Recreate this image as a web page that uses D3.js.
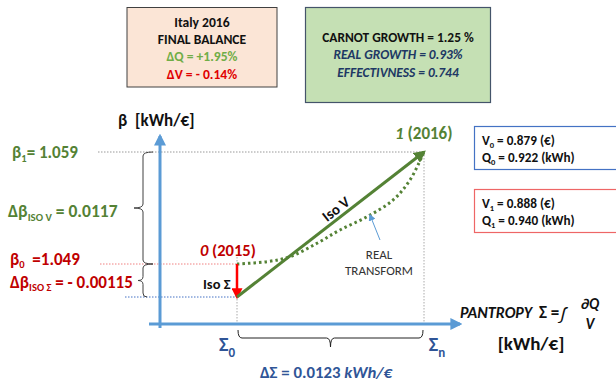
<!DOCTYPE html>
<html><head><meta charset="utf-8">
<script src="https://cdn.jsdelivr.net/npm/d3@7"></script>
<style>
body{margin:0;background:#fff;}
svg{display:block;font-family:Carlito,Lato,"Open Sans",sans-serif;}
</style></head>
<body><svg id="c" width="616" height="384"></svg>
<script>
// ---- data ----
const stateLabels = ["0", "1"];
const stateYears = ["(2015)", "(2016)"];
const sigmaValues = [0, 0.0123];            // Σ0, Σn  [kWh/€]
const betaValues = [1.049, 1.059];          // β0, β1  [kWh/€]
const deltaBetaIsoSigma = -0.00115;
const deltaBetaIsoV = 0.0117;
const deltaSigma = 0.0123;
const realTransformSigma = [0, 0.001973, 0.003486, 0.005262, 0.006775, 0.008551, 0.010261, 0.011379, 0.0123];
const realTransformBeta  = [1.049, 1.04921, 1.04965, 1.05085, 1.05204, 1.05322, 1.05471, 1.0565, 1.059];
const balanceLines = ["Italy 2016", "FINAL BALANCE", "ΔQ = +1.95%", "ΔV = - 0.14%"];
const growthLines = ["CARNOT GROWTH = 1.25 %", "REAL GROWTH = 0.93%", "EFFECTIVNESS = 0.744"];
const V = [0.879, 0.888];
const Q = [0.922, 0.940];

const svg = d3.select("#c");
const GREEN = "#548235", RED = "#c00000", BLUE = "#5b9bd5", DBLUE = "#2f5597";
const betaIso = betaValues[0] + deltaBetaIsoSigma;

const x = d3.scaleLinear().domain([sigmaValues[0], sigmaValues[1]]).range([237, 424]);
// schematic (piecewise) vertical scale
const y = d3.scaleLinear().domain([betaIso, betaValues[0], betaValues[1]]).range([297, 264, 152]);

const defs = svg.append("defs");
function marker(id, color, size) {
  defs.append("marker").attr("id", id).attr("viewBox", "0 0 10 10").attr("refX", 8).attr("refY", 5)
    .attr("markerWidth", size).attr("markerHeight", size).attr("orient", "auto").attr("markerUnits", "userSpaceOnUse")
    .append("path").attr("d", "M0,0 L10,5 L0,10 z").attr("fill", color);
}
marker("aBlue", BLUE, 12); marker("aRed", "#ff0000", 11); marker("aGreen", GREEN, 12); marker("aSmall", BLUE, 7);

// ---- top boxes ----
const b1 = svg.append("g");
b1.append("rect").attr("x", 127).attr("y", 7.5).attr("width", 150).attr("height", 79.5)
  .attr("fill", "#fbe5d6").attr("stroke", "#404040").attr("stroke-width", 1);
const b1Colors = ["#111", "#111", "#70ad47", "#e00000"];
balanceLines.forEach((t, i) => b1.append("text").attr("x", 202).attr("y", 22 + i * 17.3).attr("dy", "0.35em")
  .attr("text-anchor", "middle").attr("font-size", 13.6).attr("font-weight", "bold").attr("fill", b1Colors[i]).text(t));

const b2 = svg.append("g");
b2.append("rect").attr("x", 305.5).attr("y", 7.5).attr("width", 185).attr("height", 95)
  .attr("fill", "#c5e0b4").attr("stroke", "#44546a").attr("stroke-width", 1.2);
growthLines.forEach((t, i) => b2.append("text").attr("x", 398).attr("y", 37.5 + i * 17.3).attr("dy", "0.35em")
  .attr("text-anchor", "middle").attr("font-size", 13.4).attr("font-weight", "bold")
  .attr("font-style", i ? "italic" : "normal").attr("fill", i ? "#203864" : "#111").text(t));

// ---- V/Q boxes ----
[["#4472c4", 126], ["#ee6666", 189]].forEach(([col, top], i) => {
  const g = svg.append("g");
  g.append("rect").attr("x", 474.5).attr("y", top + 0.5).attr("width", 160).attr("height", 43)
    .attr("fill", "#fff").attr("stroke", col).attr("stroke-width", 1.2);
  const t1 = g.append("text").attr("x", 482).attr("y", top + 14).attr("dy", "0.35em").attr("font-size", 13.2).attr("font-weight", "bold").attr("fill", "#111");
  t1.append("tspan").text("V");
  t1.append("tspan").attr("font-size", 8.5).attr("dy", 3).text(i);
  t1.append("tspan").attr("dy", -3).text(" = " + V[i].toFixed(3) + " (€)");
  const t2 = g.append("text").attr("x", 482).attr("y", top + 31).attr("dy", "0.35em").attr("font-size", 13.2).attr("font-weight", "bold").attr("fill", "#111");
  t2.append("tspan").text("Q");
  t2.append("tspan").attr("font-size", 8.5).attr("dy", 3).text(i);
  t2.append("tspan").attr("dy", -3).text(" = " + Q[i].toFixed(3) + " (kWh)");
});

// ---- guide dotted lines ----
const guides = svg.append("g").attr("fill", "none").attr("stroke-width", 1).attr("stroke-dasharray", "1.5,1.5");
guides.append("line").attr("x1", 98).attr("x2", x(sigmaValues[1])).attr("y1", y(betaValues[1])).attr("y2", y(betaValues[1])).attr("stroke", "#999");
guides.append("line").attr("x1", 100).attr("x2", x(sigmaValues[0])).attr("y1", y(betaValues[0])).attr("y2", y(betaValues[0])).attr("stroke", "#f08080");
guides.append("line").attr("x1", 125).attr("x2", x(sigmaValues[0])).attr("y1", y(betaIso)).attr("y2", y(betaIso)).attr("stroke", "#4472c4");
guides.append("line").attr("x1", x(sigmaValues[0])).attr("x2", x(sigmaValues[0])).attr("y1", 257).attr("y2", 325).attr("stroke", "#aaa");
guides.append("line").attr("x1", x(sigmaValues[1])).attr("x2", x(sigmaValues[1])).attr("y1", y(betaValues[1])).attr("y2", 325).attr("stroke", "#aaa");

// ---- axes ----
svg.append("line").attr("x1", 160).attr("x2", 160).attr("y1", 328).attr("y2", 136)
  .attr("stroke", BLUE).attr("stroke-width", 3).attr("marker-end", "url(#aBlue)");
svg.append("line").attr("x1", 149).attr("x2", 460).attr("y1", 324).attr("y2", 324)
  .attr("stroke", BLUE).attr("stroke-width", 3).attr("marker-end", "url(#aBlue)");

svg.append("text").attr("x", 118).attr("y", 120).attr("dy", "0.35em").attr("font-size", 17).attr("font-weight", "bold").attr("fill", "#111")
  .style("white-space", "pre").text("β  [kWh/€]");

// ---- left braces ----
function vBrace(y0, y1, bx, tipLen, endR0, endR1) {
  const m = (y0 + y1) / 2, r = 4;
  return `M${bx + endR0},${y0} Q${bx},${y0} ${bx},${y0 + r} L${bx},${m - r} Q${bx},${m} ${bx - tipLen},${m} ` +
    `Q${bx},${m} ${bx},${m + r} L${bx},${y1 - r} Q${bx},${y1} ${bx + endR1},${y1}`;
}
const br = svg.append("g").attr("fill", "none").attr("stroke", "#404040").attr("stroke-width", 1);
br.append("path").attr("d", vBrace(y(betaValues[1]), y(betaValues[0]), 143, 9, 10, 10));
br.append("path").attr("d", vBrace(y(betaValues[0]), y(betaIso), 143, 5, 10, 4));

// left labels
function subLabel(xp, yp, main, sub, rest, color, fs, sdy) {
  const t = svg.append("text").attr("x", xp).attr("y", yp).attr("dy", "0.35em").attr("font-size", fs).attr("font-weight", "bold").attr("fill", color)
    .style("white-space", "pre");
  t.append("tspan").text(main);
  t.append("tspan").attr("font-size", fs * 0.62).attr("dy", sdy).text(sub);
  t.append("tspan").attr("dy", -sdy).text(rest);
}
subLabel(12, y(betaValues[1]), "β", "1", "= " + betaValues[1].toFixed(3), GREEN, 17, 4);
subLabel(8, 211, "Δβ", "ISO V", " = " + deltaBetaIsoV.toFixed(4), GREEN, 17.5, 4);
subLabel(10, 259, "β", "0", "  =" + betaValues[0].toFixed(3), RED, 17, 3);
subLabel(10, 282.5, "Δβ", "ISO Σ", " = - " + Math.abs(deltaBetaIsoSigma).toFixed(5), RED, 17, 3);

// ---- real transform (dotted curve) ----
const rt = realTransformSigma.map((s, i) => [x(s), y(realTransformBeta[i])]);
svg.append("path").attr("d", d3.line().curve(d3.curveCatmullRom)(rt))
  .attr("fill", "none").attr("stroke", GREEN).attr("stroke-width", 3).attr("stroke-dasharray", "2.5,3");

// ---- iso Σ (red) ----
svg.append("line").attr("x1", x(sigmaValues[0])).attr("x2", x(sigmaValues[0]))
  .attr("y1", y(betaValues[0])).attr("y2", y(betaIso))
  .attr("stroke", "#ff0000").attr("stroke-width", 2.5).attr("marker-end", "url(#aRed)");
// ---- iso V (green) ----
svg.append("line").attr("x1", x(sigmaValues[0])).attr("y1", y(betaIso))
  .attr("x2", x(sigmaValues[1])).attr("y2", y(betaValues[1]))
  .attr("stroke", GREEN).attr("stroke-width", 3).attr("marker-end", "url(#aGreen)");

const ang = Math.atan2(y(betaValues[1]) - y(betaIso), x(sigmaValues[1]) - x(sigmaValues[0])) * 180 / Math.PI;
svg.append("text").attr("transform", `translate(339,213) rotate(${ang})`).attr("text-anchor", "middle")
  .attr("font-size", 15).attr("font-weight", "bold").attr("fill", "#111").text("Iso V");
svg.append("text").attr("x", 203).attr("y", 284).attr("dy", "0.35em").attr("font-size", 14.5).attr("font-weight", "bold").attr("fill", "#111").text("Iso Σ");

// state labels
const s0 = svg.append("text").attr("x", 200).attr("y", 250).attr("dy", "0.35em").attr("font-size", 16.5).attr("font-weight", "bold").attr("fill", RED);
s0.append("tspan").attr("font-style", "italic").text(stateLabels[0]);
s0.append("tspan").text(" " + stateYears[0]);
const s1 = svg.append("text").attr("x", 395).attr("y", 133).attr("dy", "0.35em").attr("font-size", 17).attr("font-weight", "bold").attr("fill", GREEN);
s1.append("tspan").attr("font-style", "italic").text(stateLabels[1]);
s1.append("tspan").text(" " + stateYears[1]);

// real transform label
svg.append("line").attr("x1", 380).attr("y1", 240).attr("x2", 370).attr("y2", 215)
  .attr("stroke", BLUE).attr("stroke-width", 1).attr("marker-end", "url(#aSmall)");
["REAL", "TRANSFORM"].forEach((t, i) => svg.append("text").attr("x", 379).attr("y", 254 + i * 16.5).attr("dy", "0.35em")
  .attr("text-anchor", "middle").attr("font-size", 13).attr("fill", "#333").text(t));

// ---- Σ labels ----
[["0", sigmaValues[0], -10], ["n", sigmaValues[1], 13]].forEach(([sub, v, off]) => {
  const t = svg.append("text").attr("x", x(v) + off).attr("y", 344).attr("dy", "0.35em").attr("text-anchor", "middle")
    .attr("font-size", 20).attr("font-weight", "bold").attr("fill", DBLUE);
  t.append("tspan").text("Σ");
  t.append("tspan").attr("font-size", 13).attr("dy", 6).text(sub);
});

// bottom brace
(function () {
  const x0 = x(sigmaValues[0]) + 1, x1 = x(sigmaValues[1]) - 1, yb = 338, m = (x0 + x1) / 2, r = 4;
  svg.append("path").attr("fill", "none").attr("stroke", "#222").attr("stroke-width", 1)
    .attr("d", `M${x0},330 Q${x0},${yb} ${x0 + r},${yb} L${m - r},${yb} Q${m},${yb} ${m},${yb + 9} Q${m},${yb} ${m + r},${yb} L${x1 - r},${yb} Q${x1},${yb} ${x1},330`);
})();
const ds = svg.append("text").attr("x", 326).attr("y", 372).attr("dy", "0.35em").attr("text-anchor", "middle")
  .attr("font-size", 16.8).attr("font-weight", "bold").attr("fill", DBLUE).style("white-space", "pre");
ds.append("tspan").text("ΔΣ = " + deltaSigma.toFixed(4) + " ");
ds.append("tspan").attr("font-style", "italic").text("kWh/€");

// ---- pantropy label ----
const pl = svg.append("g").attr("font-weight", "bold").attr("fill", "#111");
pl.append("text").attr("x", 460).attr("y", 318).attr("font-size", 16).attr("font-style", "italic").text("PANTROPY");
pl.append("text").attr("x", 539).attr("y", 318).attr("font-size", 17).text("Σ =");
pl.append("text").attr("x", 559).attr("y", 320).attr("font-size", 19).attr("font-weight", "normal").attr("font-style", "italic").text("∫");
pl.append("text").attr("x", 590).attr("y", 309).attr("text-anchor", "middle").attr("font-size", 15).attr("font-style", "italic").text("∂Q");
pl.append("text").attr("x", 590).attr("y", 329).attr("text-anchor", "middle").attr("font-size", 15).attr("font-style", "italic").text("V");
pl.append("text").attr("x", 531).attr("y", 343).attr("dy", "0.35em").attr("text-anchor", "middle").attr("font-size", 19).text("[kWh/€]");
</script></body></html>
